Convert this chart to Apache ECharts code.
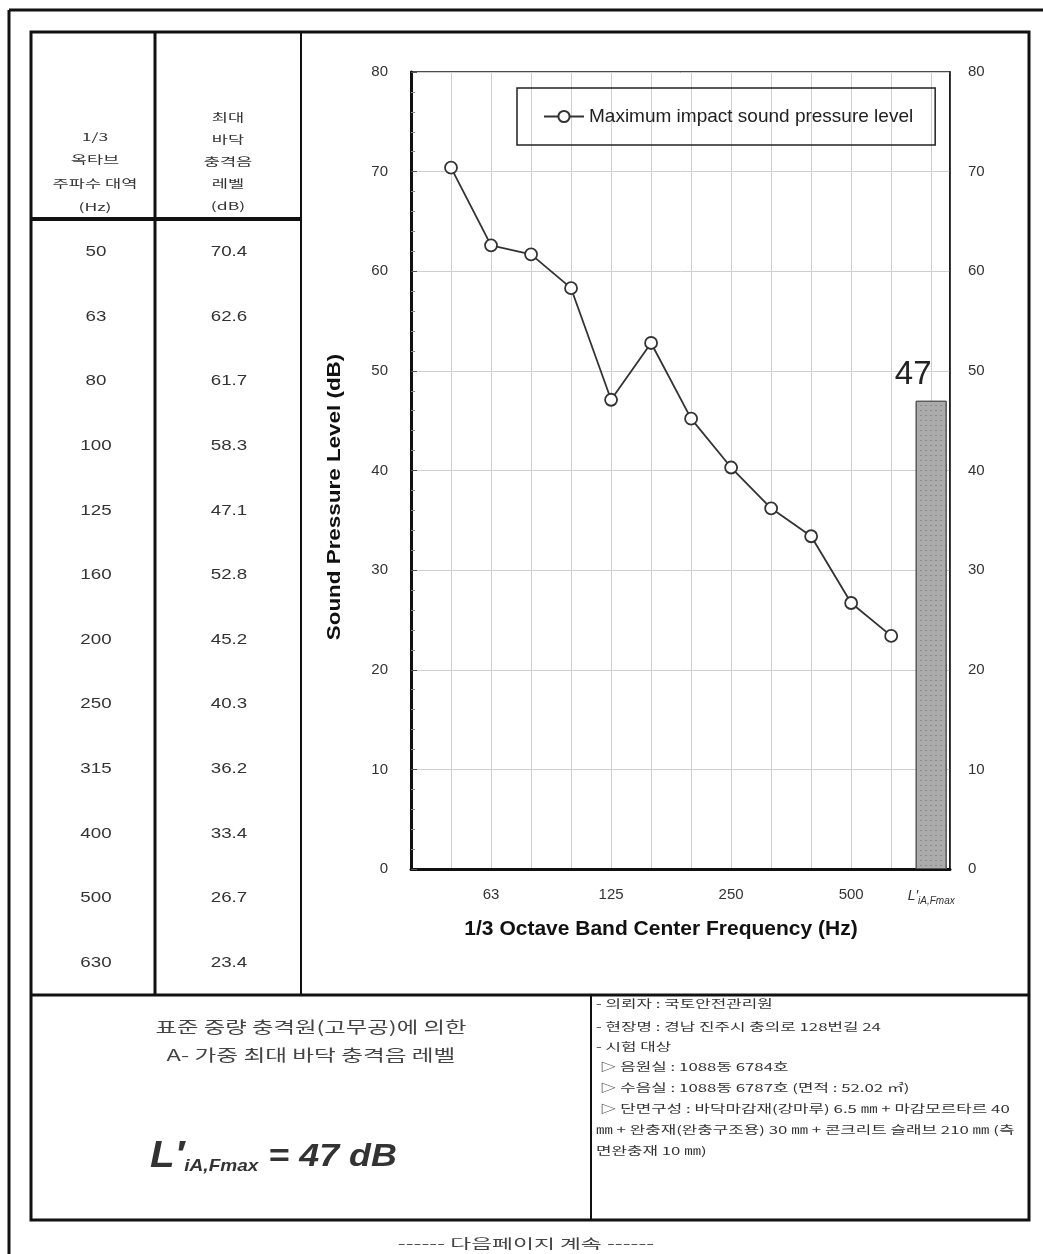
<!DOCTYPE html>
<html>
<head>
<meta charset="utf-8">
<script src="https://cdn.jsdelivr.net/npm/echarts@6/dist/echarts.min.js"></script>
<style>
  html, body { margin: 0; padding: 0; background: #fff; }
  #chart { width: 1043px; height: 1254px; }
</style>
</head>
<body>
<div id="chart"></div>
<script>
// 1/3 octave band centre frequencies (Hz)
const freqs = ['50', '63', '80', '100', '125', '160', '200', '250', '315', '400', '500', '630'];
// Maximum impact sound pressure level per band (dB)
const levels = [70.4, 62.6, 61.7, 58.3, 47.1, 52.8, 45.2, 40.3, 36.2, 33.4, 26.7, 23.4];
// Bands that carry a tick label on the frequency axis
const labelledFreqs = ['63', '125', '250', '500'];
// Single-number rating L'iA,Fmax (dB)
const overall = 47;
// Level axis ticks
const yTicks = [0, 10, 20, 30, 40, 50, 60, 70, 80];

const seriesName = 'Maximum impact sound pressure level';
const KR = "'Noto Sans CJK KR', 'Noto Sans', sans-serif";
const LAT = "'Liberation Sans', Arial, 'Noto Sans', sans-serif";

const linePoints = levels.map((v, i) => [i + 1, v]);
const barX = freqs.length + 1;

// ---- page frame and table lines ----
const frame = [];
function hline(x1, x2, y, w) {
  frame.push({ type: 'line', shape: { x1, y1: y, x2, y2: y }, style: { stroke: '#111', lineWidth: w } });
}
function vline(x, y1, y2, w) {
  frame.push({ type: 'line', shape: { x1: x, y1, x2: x, y2 }, style: { stroke: '#111', lineWidth: w } });
}
// text placed at (x, y), optionally stretched along its baseline
function txt(text, x, y, size, opts) {
  opts = opts || {};
  frame.push({
    type: 'text', x, y,
    scaleX: opts.sx || 1,
    rotation: opts.rot || 0,
    style: {
      text, x: 0, y: 0,
      align: opts.align || 'center', verticalAlign: 'middle',
      fontSize: size, fontFamily: opts.font || KR,
      fontWeight: opts.weight || 'normal', fontStyle: opts.style || 'normal',
      fill: opts.color || '#333', rich: opts.rich
    }
  });
}

hline(9, 1043, 10, 3);
vline(9, 10, 1254, 3);
frame.push({ type: 'rect', shape: { x: 31, y: 32, width: 998, height: 1188 }, style: { fill: 'none', stroke: '#111', lineWidth: 3 } });
vline(155, 32, 995, 3);
vline(301, 32, 995, 2);
hline(31, 301, 219, 4);
hline(31, 1029, 995, 3);
vline(591, 995, 1220, 2);

// ---- table header ----
const hdrLeft = ['1/3', '옥타브', '주파수 대역', '(Hz)'];
const hdrRight = ['최대', '바닥', '충격음', '레벨', '(dB)'];
hdrLeft.forEach((t, i) => txt(t, 95, 137 + i * 23.3, 11, { sx: 1.6 }));
hdrRight.forEach((t, i) => txt(t, 228, 118 + i * 22, 11, { sx: 1.6 }));

// ---- table body, from the data arrays ----
freqs.forEach((f, i) => {
  const y = 252 + i * 64.6;
  txt(f, 96, y, 15, { font: LAT, sx: 1.25 });
  txt(levels[i].toFixed(1), 229, y, 15, { font: LAT, sx: 1.25 });
});

// ---- axis titles ----
txt('Sound Pressure Level (dB)', 335, 497, 19, { font: LAT, weight: 'bold', color: '#111', rot: Math.PI / 2, sx: 1.18 });
txt('1/3 Octave Band Center Frequency (Hz)', 661, 929, 20, { font: LAT, weight: 'bold', color: '#111', sx: 1.05 });

// ---- bottom-left summary ----
txt('표준 중량 충격원(고무공)에 의한', 311, 1027, 16, { sx: 1.46, color: '#444' });
txt('A- 가중 최대 바닥 충격음 레벨', 311, 1055, 16, { sx: 1.48, color: '#444' });
txt('{L|L′}{s|iA,Fmax}{e| = ' + overall + ' dB}', 150, 1157, 30, {
  align: 'left', sx: 1.12,
  rich: {
    L: { fontSize: 36, fontWeight: 'bold', fontStyle: 'italic', fontFamily: LAT, color: '#000' },
    s: { fontSize: 17, fontWeight: 'bold', fontStyle: 'italic', fontFamily: LAT, color: '#000', padding: [18, 0, 0, 0] },
    e: { fontSize: 32, fontWeight: 'bold', fontStyle: 'italic', fontFamily: LAT, color: '#000' }
  }
});

// ---- bottom-right test details ----
const notes = [
  '- 의뢰자 : 국토안전관리원',
  '- 현장명 : 경남 진주시 충의로 128번길 24',
  '- 시험 대상',
  ' ▷ 음원실 : 1088동 6784호',
  ' ▷ 수음실 : 1088동 6787호 (면적 : 52.02 ㎡)',
  ' ▷ 단면구성 : 바닥마감재(강마루) 6.5 ㎜ + 마감모르타르 40',
  '㎜ + 완충재(완충구조용) 30 ㎜ + 콘크리트 슬래브 210 ㎜ (측',
  '면완충재 10 ㎜)'
];
const noteY = [1004, 1027, 1047, 1067, 1088, 1109, 1130, 1151];
notes.forEach((t, i) => txt(t, 596, noteY[i], 11, { align: 'left', sx: 1.53 }));

// ---- footer ----
txt('------ 다음페이지 계속 ------', 526, 1243, 13, { sx: 1.75, color: '#444' });

const chart = echarts.init(document.getElementById('chart'), null, { renderer: 'canvas' });

const yAxisCommon = {
  type: 'value', min: yTicks[0], max: yTicks[yTicks.length - 1], interval: yTicks[1] - yTicks[0]
};

chart.setOption({
  backgroundColor: '#fff',
  animation: false,
  grid: { left: 411, top: 72, width: 539, height: 797, show: true, borderColor: '#111', borderWidth: 1.5, backgroundColor: 'transparent' },
  legend: {
    data: [seriesName],
    left: 517, top: 88,
    padding: [19, 22, 19, 26],
    borderColor: '#222', borderWidth: 1.5,
    itemWidth: 40, itemHeight: 14, itemGap: 4,
    textStyle: { fontSize: 19, fontFamily: LAT, color: '#222' }
  },
  xAxis: {
    type: 'value', min: 0, max: freqs.length + 1.47, interval: 1,
    axisLine: { lineStyle: { color: '#111', width: 3 } },
    axisTick: { show: false },
    splitLine: { show: true, lineStyle: { color: '#cfcfcf', width: 1 } },
    axisLabel: {
      margin: 18, fontSize: 15, fontFamily: LAT, color: '#333',
      formatter: function (v) {
        if (v === barX) return '{l|L′}{s|iA,Fmax}';
        if (Number.isInteger(v) && v >= 1 && v <= freqs.length) {
          const f = freqs[v - 1];
          return labelledFreqs.indexOf(f) >= 0 ? f : '';
        }
        return '';
      },
      rich: {
        l: { fontSize: 14, fontStyle: 'italic', fontFamily: LAT, color: '#333' },
        s: { fontSize: 10, fontStyle: 'italic', fontFamily: LAT, color: '#333', padding: [9, 0, 0, 0] }
      }
    }
  },
  yAxis: [
    Object.assign({}, yAxisCommon, {
      position: 'left',
      axisLine: { show: true, lineStyle: { color: '#111', width: 3 } },
      axisTick: { show: true, inside: true, length: 6, lineStyle: { color: '#555' } },
      minorTick: { show: true, splitNumber: 5, length: 4, lineStyle: { color: '#888' } },
      splitLine: { show: true, lineStyle: { color: '#cfcfcf', width: 1 } },
      axisLabel: { margin: 23, fontSize: 15, fontFamily: LAT, color: '#333' }
    }),
    Object.assign({}, yAxisCommon, {
      position: 'right',
      axisLine: { show: true, lineStyle: { color: '#111', width: 1.5 } },
      axisTick: { show: false },
      splitLine: { show: false },
      axisLabel: { margin: 18, fontSize: 15, fontFamily: LAT, color: '#333' }
    })
  ],
  series: [
    {
      name: seriesName,
      type: 'line',
      data: linePoints,
      symbol: 'circle', symbolSize: 12,
      lineStyle: { color: '#333', width: 1.8 },
      itemStyle: { color: '#fff', borderColor: '#333', borderWidth: 1.8 },
      z: 5
    },
    {
      name: 'overall',
      type: 'bar',
      data: [[barX, overall]],
      barWidth: 31,
      itemStyle: {
        color: '#ababab', borderColor: '#555', borderWidth: 1,
        decal: { symbol: 'rect', symbolSize: 1, dashArrayX: [2, 3], dashArrayY: [1, 4], color: 'rgba(80,80,80,0.35)', rotation: 0 }
      },
      label: {
        show: true, position: 'top', distance: 9, offset: [-18, 0],
        fontSize: 33, fontFamily: LAT, color: '#222',
        formatter: p => String(p.value[1])
      },
      z: 3
    }
  ],
  graphic: frame
});
</script>
</body>
</html>
